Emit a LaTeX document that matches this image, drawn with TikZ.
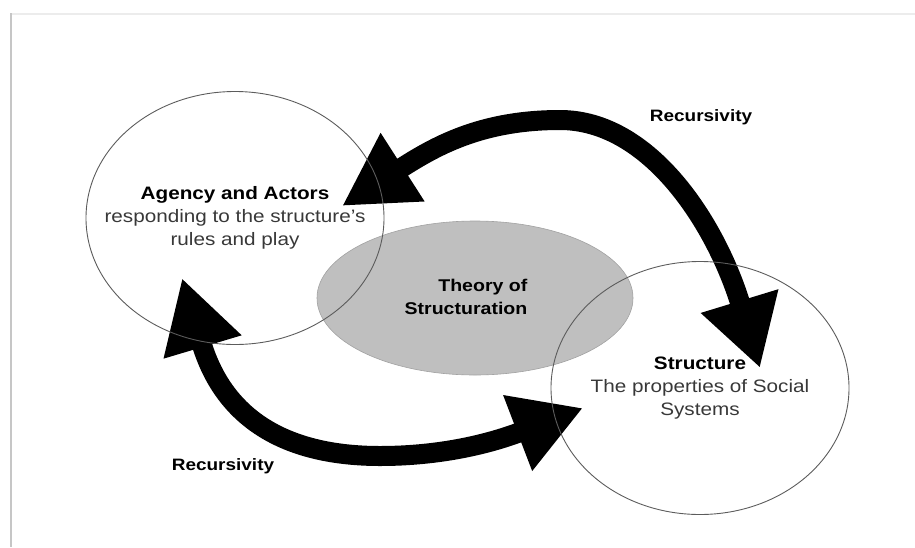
\documentclass[tikz,border=0pt]{standalone}
\usepackage{fontspec}
\setmainfont{Liberation Sans}[FakeStretch=1.15]
\usetikzlibrary{shapes.geometric,arrows.meta}
\definecolor{ring-line}{HTML}{5C5C5C}
\definecolor{hub-fill}{HTML}{BFBFBF}
\definecolor{body-text}{HTML}{383838}
\definecolor{frame-side}{HTML}{C6C6C6}
\definecolor{frame-top}{HTML}{ECECEC}

\begin{document}
\begin{tikzpicture}[
x=1pt, y=-1pt,
ring/.style={ellipse, draw=ring-line, line width=0.9pt, inner sep=0pt,
minimum width=298pt, minimum height=253pt},
ring-text/.style={align=center, text=body-text, font=\fontsize{18}{23}\selectfont},
hub/.style={ellipse, fill=hub-fill, draw=hub-fill!85!black, line width=0.6pt,
minimum width=316pt, minimum height=154pt},
hub-text/.style={align=right, font=\bfseries\fontsize{17}{23}\selectfont},
loop-label/.style={font=\bfseries\fontsize{16.5}{20}\selectfont},
loop-arrow/.style={line width=20pt,
{Triangle[length=72pt,width=76pt]}-{Triangle[length=70pt,width=76pt]}}
]

\useasboundingbox (0,0) rectangle (915,547);
\draw[frame-top, line width=1.5pt] (11,14) -- (915,14);
\draw[frame-side, line width=2pt] (11,13) -- (11,547);

\node [hub] (theory) at (475,298) {};
\node [hub-text] (theory-text) at (466,297) {Theory of\\Structuration};

\coordinate (top-start) at (342,206);
\coordinate (top-crest) at (560,120);
\coordinate (top-end) at (760,368);
\coordinate (low-start) at (182,278);
\coordinate (low-dip) at (380,456);
\coordinate (low-end) at (583,408);

\draw [loop-arrow] (top-start) .. controls (434,147) and (480,120) .. (top-crest)
  .. controls (650,120) and (716,224) .. (top-end);
\draw [loop-arrow] (low-start) .. controls (225,422) and (290,456) .. (low-dip)
  .. controls (440,456) and (489,444) .. (low-end);

\node [ring, label={[ring-text]center:\textcolor{black}{\bfseries Agency and Actors}\\
responding to the structure's\\rules and play}] (agency) at (235,218) {};
\node [ring, label={[ring-text]center:\textcolor{black}{\bfseries Structure}\\
The properties of Social\\Systems}] (structure) at (700,388) {};

\node [loop-label] (recursivity-top) at (701,117) {Recursivity};
\node [loop-label] (recursivity-low) at (223,466) {Recursivity};

\end{tikzpicture}
\end{document}
